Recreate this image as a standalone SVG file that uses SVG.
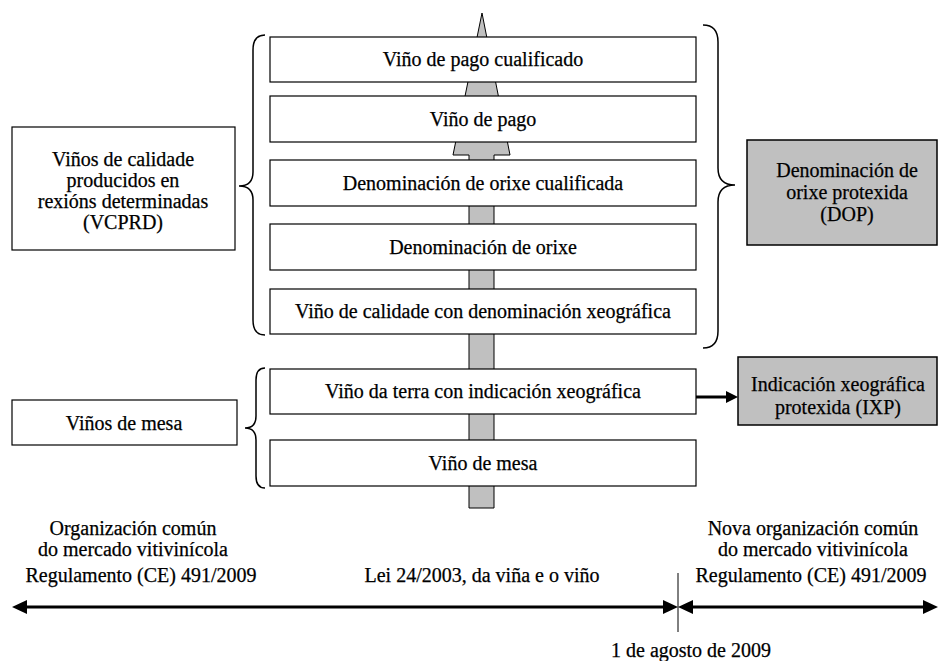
<svg xmlns="http://www.w3.org/2000/svg" width="938" height="661" viewBox="0 0 938 661">
<style>
text{font-family:"Liberation Serif","Times New Roman",serif;font-size:20px;fill:#000;stroke:#000;stroke-width:0.25;text-anchor:middle}
.box{fill:#fff;stroke:#000;stroke-width:1.2}
.gbox{fill:#c0c0c0;stroke:#000;stroke-width:1.5}
.brace{fill:none;stroke:#000;stroke-width:1.5}
.thick{fill:none;stroke:#000;stroke-width:3}
</style>
<rect width="938" height="661" fill="#fff"/>
<g id="central-arrow">
<path d="M482,13 L510,155 L494,155 L494,508 L469,508 L469,155 L453,155 Z" fill="#c0c0c0" stroke="#000" stroke-width="1"/>
</g>
<g id="n1"><rect class="box" x="270" y="37" width="426" height="45"/><text x="483" y="66">Viño de pago cualificado</text></g>
<g id="n2"><rect class="box" x="270" y="96" width="426" height="46"/><text x="483" y="126">Viño de pago</text></g>
<g id="n3"><rect class="box" x="270" y="160" width="426" height="46"/><text x="483" y="190">Denominación de orixe cualificada</text></g>
<g id="n4"><rect class="box" x="270" y="224" width="426" height="46"/><text x="483" y="254">Denominación de orixe</text></g>
<g id="n5"><rect class="box" x="270" y="289" width="426" height="45"/><text x="483" y="318">Viño de calidade con denominación xeográfica</text></g>
<g id="n6"><rect class="box" x="270" y="369" width="426" height="45"/><text x="483" y="398">Viño da terra con indicación xeográfica</text></g>
<g id="n7"><rect class="box" x="270" y="440" width="426" height="46"/><text x="483" y="470">Viño de mesa</text></g>
<g id="vcprd"><rect class="box" x="12" y="127" width="223" height="123"/>
<text x="123" y="166">Viños de calidade</text><text x="123" y="187">producidos en</text><text x="123" y="208">rexións determinadas</text><text x="123" y="229">(VCPRD)</text></g>
<g id="mesa"><rect class="box" x="12" y="400" width="225" height="45"/><text x="124" y="430">Viños de mesa</text></g>
<g id="dop"><rect class="gbox" x="747" y="140" width="190" height="105"/>
<text x="847" y="177">Denominación de</text><text x="847" y="199">orixe protexida</text><text x="847" y="221">(DOP)</text></g>
<g id="ixp"><rect class="gbox" x="738" y="357" width="199" height="68"/>
<text x="838" y="391">Indicación xeográfica</text><text x="838" y="414">protexida (IXP)</text></g>
<g id="braces">
<path class="brace" d="M265,35 Q253,35 253,50 L253,172 Q253,186 239,186 Q253,186 253,200 L253,320 Q253,335 265,335"/>
<path class="brace" d="M265,368 Q256,368 256,380 L256,416 Q256,428 245,428 Q256,428 256,440 L256,476 Q256,488 265,488"/>
<path class="brace" stroke-width="2" d="M703,25 Q718,25 718,42 L718,168 Q718,185 735,185 Q718,185 718,202 L718,331 Q718,348 703,348"/>
</g>
<g id="connectors">
<line class="thick" x1="696" y1="397" x2="728" y2="397"/>
<polygon points="738,397 726,391 726,403" fill="#000"/>
<line x1="678" y1="573" x2="678" y2="632" stroke="#000" stroke-width="1"/>
<line class="thick" x1="25" y1="607" x2="665" y2="607"/>
<line class="thick" x1="691" y1="607" x2="925" y2="607"/>
<polygon points="12,607 27,600 27,614" fill="#000"/>
<polygon points="678,607 663,600 663,614" fill="#000"/>
<polygon points="678,607 693,600 693,614" fill="#000"/>
<polygon points="938,607 923,600 923,614" fill="#000"/>
</g>
<g id="labels">
<text x="133" y="535">Organización común</text>
<text x="133" y="556">do mercado vitivinícola</text>
<text x="141" y="582">Regulamento (CE) 491/2009</text>
<text x="482" y="582">Lei 24/2003, da viña e o viño</text>
<text x="813" y="535">Nova organización común</text>
<text x="813" y="556">do mercado vitivinícola</text>
<text x="811" y="582">Regulamento (CE) 491/2009</text>
<text x="691" y="657">1 de agosto de 2009</text>
</g>
</svg>
